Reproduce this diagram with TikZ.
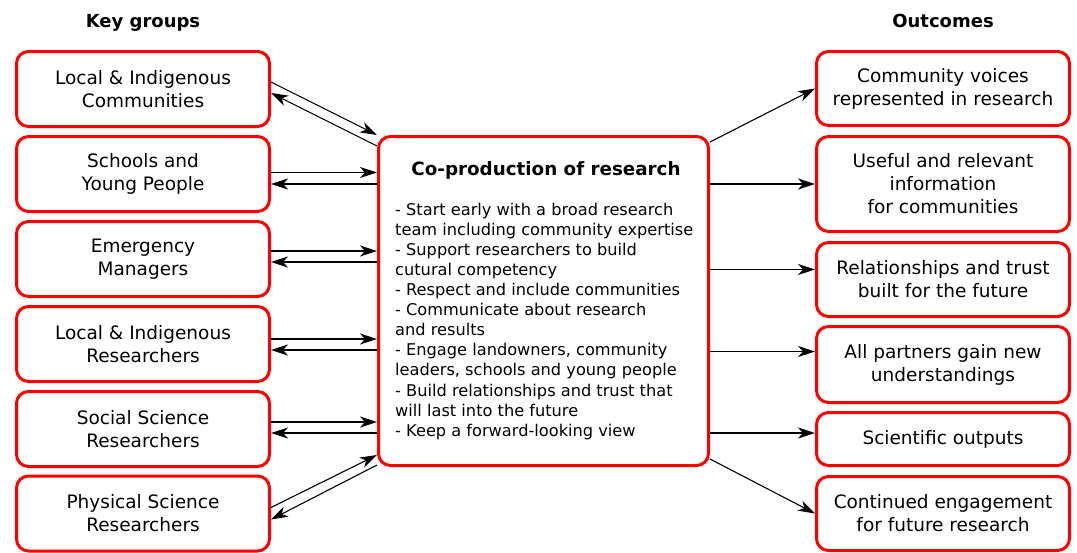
\documentclass[tikz,border=0pt]{standalone}
\usepackage{fontspec}
\setmainfont{DejaVu Sans}
\usepackage{tikz}
\usetikzlibrary{arrows.meta}

\tikzset{
  box/.style={draw=red, line width=3pt, rounded corners=12pt, fill=white,
    align=center, minimum width=253pt, inner sep=0pt,
    font=\fontsize{18.5}{23}\selectfont},
  head/.style={anchor=base, font=\bfseries\fontsize{18}{22}\selectfont},
  link/.style={line width=1.1pt, -{Stealth[length=17pt,width=11pt,inset=5pt]}}
}

\begin{document}
\begin{tikzpicture}[x=1pt,y=-1pt]
\useasboundingbox (0,0) rectangle (1077,552);

\node[head] (left) at (143,27) {Key groups};
\node[head] (right) at (943,27) {Outcomes};

% key groups
\node[box, minimum height=75] (g1) at (143,89) {Local \& Indigenous\\Communities};
\node[box, minimum height=75] (g2) at (143,174) {Schools and\\Young People};
\node[box, minimum height=75] (g3) at (143,259) {Emergency\\Managers};
\node[box, minimum height=75] (g4) at (143,344) {Local \& Indigenous\\Researchers};
\node[box, minimum height=75] (g5) at (143,429) {Social Science\\Researchers};
\node[box, minimum height=75] (g6) at (143,513.5) {Physical Science\\Researchers};

% middle
\node[box, minimum width=330, minimum height=329] (core) at (543.5,301) {};
\node[font=\bfseries\fontsize{18.3}{22}\selectfont] (title) at (546,170) {Co-production of research};
\node[anchor=north west, inner sep=0pt, align=left, font=\fontsize{16.2}{20.1}\selectfont] (steps) at (395,202.6)
{- Start early with a broad research\\
team including community expertise\\
- Support researchers to build\\
cutural competency\\
- Respect and include communities\\
- Communicate about research\\
and results\\
- Engage landowners, community\\
leaders, schools and young people\\
- Build relationships and trust that\\
will last into the future\\
- Keep a forward-looking view};

% outcomes
\node[box, minimum height=74] (o1) at (943,88.5) {Community voices\\represented in research};
\node[box, minimum height=95] (o2) at (943,184) {Useful and relevant\\information\\for communities};
\node[box, minimum height=74] (o3) at (943,279.5) {Relationships and trust\\built for the future};
\node[box, minimum height=76] (o4) at (943,364.5) {All partners gain new\\understandings};
\node[box, minimum height=53] (o5) at (943,439) {Scientific outputs};
\node[box, minimum height=74] (o6) at (943,513.5) {Continued engagement\\for future research};

% two-way links
\draw[link] ([yshift=7]g1.east) -- (core.north west);
\draw[link] ([yshift=-11]core.north west) -- ([yshift=-4]g1.east);
\draw[link] ([yshift=1.5]g2.east) -- ([yshift=1.5]core.west |- g2.east);
\draw[link] ([yshift=-10]core.west |- g2.east) -- ([yshift=-10]g2.east);
\draw[link] ([yshift=8]g3.east) -- ([yshift=8]core.west |- g3.east);
\draw[link] ([yshift=-3]core.west |- g3.east) -- ([yshift=-3]g3.east);
\draw[link] ([yshift=5]g4.east) -- ([yshift=5]core.west |- g4.east);
\draw[link] ([yshift=-6]core.west |- g4.east) -- ([yshift=-6]g4.east);
\draw[link] ([yshift=7]g5.east) -- ([yshift=7]core.west |- g5.east);
\draw[link] ([yshift=-4]core.west |- g5.east) -- ([yshift=-4]g5.east);
\draw[link] ([yshift=6]g6.east) -- ([yshift=12]core.south west);
\draw[link] ([yshift=2]core.south west) -- ([yshift=-6]g6.east);

% outcome links
\draw[link] ([yshift=-7]core.north east) -- (o1.west);
\draw[link] (core.east |- o2.west) -- (o2.west);
\draw[link] ([yshift=10]core.east |- o3.west) -- ([yshift=10]o3.west);
\draw[link] ([yshift=13]core.east |- o4.west) -- ([yshift=13]o4.west);
\draw[link] ([yshift=6]core.east |- o5.west) -- ([yshift=6]o5.west);
\draw[link] ([yshift=8]core.south east) -- (o6.west);
\end{tikzpicture}
\end{document}
